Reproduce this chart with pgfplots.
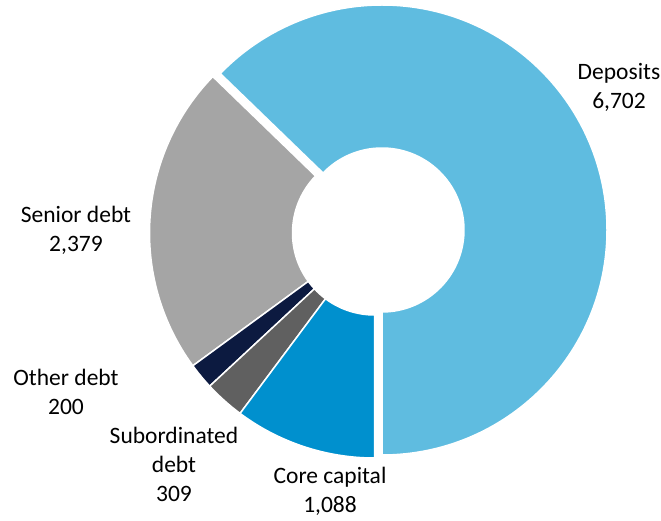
\documentclass[border=0pt]{standalone}
\usepackage{pgfplots}
\pgfplotsset{compat=1.18}
\usepackage{pgfplotstable}
\usepackage{fontspec}
\setmainfont{Carlito}
\definecolor{cDep}{HTML}{5FBCE0}
\definecolor{cSen}{HTML}{A5A5A5}
\definecolor{cOth}{HTML}{0C1A40}
\definecolor{cSub}{HTML}{606060}
\definecolor{cCor}{HTML}{0090CE}
\pgfplotstableread{
name value
Deposits 6702
Senior 2379
Other 200
Sub 309
Core 1088
}\slices
\newcommand\slice[5]{%
  \fill[#5, draw=white, line width=1.5pt, shift={(axis cs:#1,#2)}]
    (#3:225pt) arc[start angle=#3,end angle=#4,radius=225pt]
    -- (#4:82pt) arc[start angle=#4,end angle=#3,radius=82pt] -- cycle;}
\begin{document}
\begin{tikzpicture}
\pgfplotstablegetelem{0}{value}\of\slices \pgfmathsetmacro\vA{\pgfplotsretval/100}
\pgfplotstablegetelem{1}{value}\of\slices \pgfmathsetmacro\vB{\pgfplotsretval/100}
\pgfplotstablegetelem{2}{value}\of\slices \pgfmathsetmacro\vC{\pgfplotsretval/100}
\pgfplotstablegetelem{3}{value}\of\slices \pgfmathsetmacro\vD{\pgfplotsretval/100}
\pgfplotstablegetelem{4}{value}\of\slices \pgfmathsetmacro\vE{\pgfplotsretval/100}
\pgfmathsetmacro\tot{\vA+\vB+\vC+\vD+\vE}
\pgfmathsetmacro\aA{-90}
\pgfmathsetmacro\aB{\aA+360*(\vA/\tot)}
\pgfmathsetmacro\aC{\aB+360*(\vB/\tot)}
\pgfmathsetmacro\aD{\aC+360*(\vC/\tot)}
\pgfmathsetmacro\aE{\aD+360*(\vD/\tot)}
\pgfmathsetmacro\aF{270}
\begin{axis}[x=1pt,y=1pt,xmin=0,xmax=661,ymin=0,ymax=520,hide axis,clip=false]
\path (axis cs:0,0) rectangle (axis cs:661,520);
\slice{382}{290}{\aA}{\aB}{cDep}
\slice{374.5}{287}{\aB}{\aC}{cSen}
\slice{374.5}{287}{\aC}{\aD}{cOth}
\slice{374.5}{287}{\aD}{\aE}{cSub}
\slice{374.5}{287}{\aE}{\aF}{cCor}
\tikzset{lab/.style={align=center,inner sep=0pt,text=black,font=\fontsize{23.5}{29}\selectfont}}
\node[lab] at (axis cs:619,433) {Deposits\\6,702};
\node[lab] at (axis cs:76,290) {Senior debt\\2,379};
\node[lab] at (axis cs:66,128) {Other debt\\200};
\node[lab] at (axis cs:174,56) {Subordinated\\debt\\309};
\node[lab] at (axis cs:330,29) {Core capital\\1,088};
\end{axis}
\end{tikzpicture}
\end{document}
